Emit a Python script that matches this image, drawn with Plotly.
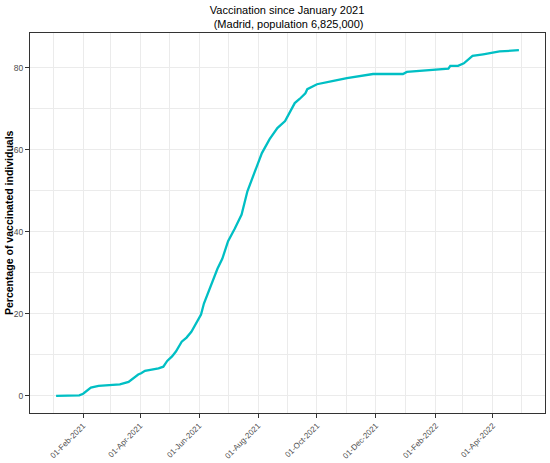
import plotly.graph_objects as go

# Dati (percentuale di vaccinati, Madrid)
dates = [
    "2021-01-04", "2021-01-20", "2021-01-28", "2021-02-01", "2021-02-05",
    "2021-02-09", "2021-02-17", "2021-03-01", "2021-03-11", "2021-03-20",
    "2021-03-25", "2021-03-30", "2021-04-02", "2021-04-06", "2021-04-13",
    "2021-04-20", "2021-04-25", "2021-04-29", "2021-05-04", "2021-05-08",
    "2021-05-14", "2021-05-19", "2021-05-24", "2021-05-30", "2021-06-03",
    "2021-06-06", "2021-06-10", "2021-06-15", "2021-06-20", "2021-06-25",
    "2021-07-01", "2021-07-08", "2021-07-15", "2021-07-21", "2021-07-29",
    "2021-08-05", "2021-08-13", "2021-08-21", "2021-08-29", "2021-09-08",
    "2021-09-13", "2021-09-19", "2021-09-21", "2021-10-01", "2021-10-18",
    "2021-11-01", "2021-11-28", "2021-12-29", "2022-01-02", "2022-02-14",
    "2022-02-16", "2022-02-24", "2022-03-02", "2022-03-11", "2022-03-22",
    "2022-04-08", "2022-04-28",
]
pct_vaccinated = [
    0.0, 0.0, 0.1, 0.5, 1.3,
    2.0, 2.4, 2.6, 2.8, 3.4,
    4.4, 5.2, 5.5, 6.1, 6.4,
    6.7, 7.1, 8.5, 9.6, 10.8,
    13.2, 14.2, 15.6, 18.1, 19.8,
    22.5, 25.0, 27.9, 31.0, 33.4,
    37.7, 40.8, 44.2, 49.9, 54.8,
    59.2, 62.6, 65.3, 67.0, 71.4,
    72.4, 73.8, 74.8, 76.0, 76.8,
    77.5, 78.5, 78.5, 79.0, 79.8,
    80.5, 80.5, 81.1, 82.9, 83.3,
    84.0, 84.3,
]

fig = go.Figure()
fig.add_trace(go.Scatter(
    x=dates, y=pct_vaccinated, mode="lines",
    line=dict(color="#00BFC4", width=2.3),
    hoverinfo="x+y", showlegend=False
))

# Asse x con etichette ruotate stile ggplot
fig.update_xaxes(
    type="date",
    range=["2020-12-08", "2022-05-25"],
    tick0="2021-02-01", dtick="M2", tickformat="%d-%b-%Y",
    tickangle=-45, ticks="outside", ticklen=4, tickcolor="#333333",
    tickfont=dict(size=8, color="#4d4d4d"),
    showgrid=True, gridcolor="#ebebeb", gridwidth=1,
    minor=dict(dtick="M1", tick0="2021-01-01", showgrid=True,
               gridcolor="#ebebeb", gridwidth=0.6),
    showline=True, linecolor="#333333", linewidth=1, mirror=True,
    zeroline=False
)

fig.update_yaxes(
    range=[-4.2, 88.5],
    tickvals=[0, 20, 40, 60, 80],
    ticks="outside", ticklen=4, tickcolor="#333333",
    tickfont=dict(size=8.5, color="#4d4d4d"),
    showgrid=True, gridcolor="#ebebeb", gridwidth=1,
    minor=dict(tickvals=[10, 30, 50, 70], showgrid=True,
               gridcolor="#ebebeb", gridwidth=0.6),
    showline=True, linecolor="#333333", linewidth=1, mirror=True,
    zeroline=False
)

# Titolo asse y come annotazione (posizione più controllabile)
fig.add_annotation(
    text="<b>Percentage of vaccinated individuals</b>",
    xref="paper", yref="paper", x=0, y=0.5,
    xanchor="center", yanchor="middle", xshift=-21,
    textangle=-90, showarrow=False,
    font=dict(size=10.5, color="black")
)

fig.update_layout(
    width=550, height=463,
    font=dict(family="Liberation Sans, Arial, sans-serif"),
    plot_bgcolor="white", paper_bgcolor="white",
    title=dict(
        text="Vaccination since January 2021<br> (Madrid, population 6,825,000)",
        x=0.522, xanchor="center", y=0.97, yanchor="top",
        font=dict(size=11, color="black")
    ),
    margin=dict(l=30, r=5, t=33, b=50, autoexpand=False),
)

# niente margine del body, così la figura parte da (0, 0)
fig.write_html("out.html", config={"displayModeBar": False},
               post_script="document.body.style.margin='0';")
